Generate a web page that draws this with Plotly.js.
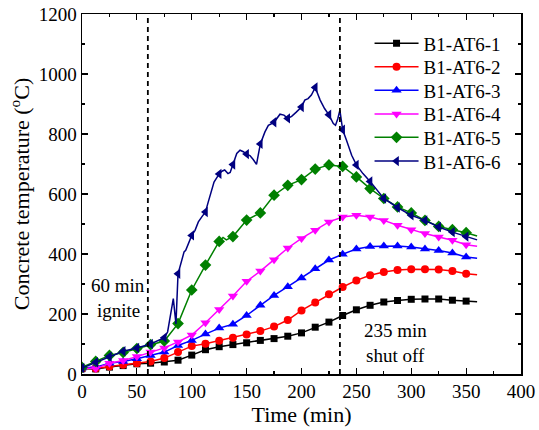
<!DOCTYPE html>
<html>
<head>
<meta charset="utf-8">
<script src="https://cdn.plot.ly/plotly-3.0.1.min.js"></script>
<style>html,body{margin:0;padding:0;background:#fff;}#chart{width:539px;height:430px;}</style>
</head>
<body>
<div id="chart"></div>
<script>
// Marker times (min)
const markTimes = [0,12.5,25,37.5,50,62.5,75,87.5,100,112.5,125,137.5,150,162.5,175,187.5,200,212.5,225,237.5,250,262.5,275,287.5,300,312.5,325,337.5,350];

// Values at marker times (°C)
const s1Mark = [18,17,23,28,34,36,40,46,63,81,91,98,104,112,118,126,137,156,173,195,214,229,240,245,249,250,250,246,243];
const s2Mark = [18,18,25,31,36,42,53,73,93,101,111,121,132,143,158,180,212,238,266,290,312,329,340,347,349,349,348,343,334];
const s3Mark = [20,23,36,42,51,62,73,95,112,133,153,166,195,229,262,291,320,351,380,399,417,425,427,427,423,417,412,403,390];
const s4Mark = [20,18,36,45,58,73,87,107,130,171,215,260,309,343,381,420,452,479,507,523,529,523,512,496,481,468,457,446,431];
const s5Mark = [22,42,62,72,85,98,110,168,280,363,442,458,513,537,596,629,648,683,697,692,657,618,585,557,537,512,492,481,471];
const s6Mark = [20,39,58,76,87,100,121,334,462,540,667,698,733,767,839,852,890,955,864,814,697,642,585,555,529,512,490,473,458];

// Extra line-only points (between markers / line end)
const s1ExtraT = [360];
const s1ExtraV = [241];
const s2ExtraT = [360];
const s2ExtraV = [331];
const s3ExtraT = [360];
const s3ExtraV = [386];
const s4ExtraT = [360];
const s4ExtraV = [426];
const s5ExtraT = [128.5,131.5,360];
const s5ExtraV = [455,447,460];
const s6ExtraT = [78,83.2,85.6,90.8,93,94.5,96.9,103,106,109,115,117.3,120.3,127.5,130,133,135,141,144,147,153,156,159,166.7,169.8,180.4,184,191,195,203,206,209,217,221,229,231,233,235,236.6,241,245.7,256,360];
const s6ExtraV = [140,251,167,379,407,412,434,479,507,523,573,601,640,676,680,668,672,735,746,741,728,715,699,807,829,866,863,859,872,913,918,930,913,885,835,829,850,879,835,779,729,668,447];

const names = ['B1-AT6-1','B1-AT6-2','B1-AT6-3','B1-AT6-4','B1-AT6-5','B1-AT6-6'];
const colors = ['#000000','#ff0000','#0000ff','#ff00ff','#008000','#000080'];
const symbols = ['square','circle','triangle-up','triangle-down','diamond','triangle-left'];
const sizes = [7,8,9,9,9,9];

const marks = [s1Mark,s2Mark,s3Mark,s4Mark,s5Mark,s6Mark];
const extrasT = [s1ExtraT,s2ExtraT,s3ExtraT,s4ExtraT,s5ExtraT,s6ExtraT];
const extrasV = [s1ExtraV,s2ExtraV,s3ExtraV,s4ExtraV,s5ExtraV,s6ExtraV];

const FONT = 'Liberation Serif, Times New Roman, serif';
const legendIds = ['legend','legend2','legend3','legend4','legend5','legend6'];
const legendY = [0.918, 0.853, 0.788, 0.722, 0.657, 0.591];

const traces = [];
for (let i = 0; i < 6; i++) {
  const pts = markTimes.map((t, k) => [t, marks[i][k]]);
  extrasT[i].forEach((t, k) => pts.push([t, extrasV[i][k]]));
  pts.sort((a, b) => a[0] - b[0]);
  traces.push({
    x: pts.map(p => p[0]), y: pts.map(p => p[1]),
    type: 'scatter', mode: 'lines', showlegend: false, hoverinfo: 'skip',
    line: {color: colors[i], width: 1.5}
  });
  traces.push({
    x: markTimes, y: marks[i],
    type: 'scatter', mode: 'markers', showlegend: false,
    marker: {color: colors[i], symbol: symbols[i], size: sizes[i], line: {width: 0}}
  });
}
// legend entries (one legend box per entry, to match row spacing)
for (let i = 0; i < 6; i++) {
  traces.push({
    x: [null], y: [null], name: names[i], legend: legendIds[i],
    type: 'scatter', mode: 'lines+markers',
    line: {color: colors[i], width: 1.5},
    marker: {color: colors[i], symbol: symbols[i], size: sizes[i], line: {width: 0}}
  });
}

const eventTimes = [60, 235];
const shapes = eventTimes.map(t => ({
  type: 'line', xref: 'x', yref: 'y', x0: t, x1: t, y0: 0, y1: 1188,
  line: {color: '#000', width: 1.8, dash: '5px,4px'}
}));

const annotations = [
  {x: 33, y: 295, text: '60 min'},
  {x: 33, y: 212, text: 'ignite'},
  {x: 286, y: 145, text: '235 min'},
  {x: 286, y: 62, text: 'shut off'}
].map(a => Object.assign({xref: 'x', yref: 'y', showarrow: false, font: {family: FONT, size: 19, color: '#000'}}, a));

const axisCommon = {
  showline: true, linecolor: '#000', linewidth: 1.5, mirror: 'ticks',
  ticks: 'inside', ticklen: 6, tickwidth: 1.2, tickcolor: '#000',
  showgrid: false, zeroline: false,
  tickfont: {family: FONT, size: 19, color: '#000'}
};

const layout = {
  width: 539, height: 430,
  margin: {l: 82, r: 18, t: 14, b: 56},
  paper_bgcolor: '#fff', plot_bgcolor: '#fff',
  font: {family: FONT, size: 19, color: '#000'},
  xaxis: Object.assign({}, axisCommon, {
    range: [0, 400], dtick: 50, tick0: 0,
    minor: {dtick: 25, ticks: 'inside', ticklen: 3, tickcolor: '#000', tickwidth: 1.2},
    title: {text: 'Time (min)', font: {family: FONT, size: 22, color: '#000'}, standoff: 2}
  }),
  yaxis: Object.assign({}, axisCommon, {
    range: [0, 1200], dtick: 200, tick0: 0,
    minor: {dtick: 100, ticks: 'inside', ticklen: 3, tickcolor: '#000', tickwidth: 1.2},
    title: {text: 'Concrete temperature (<sup>o</sup>C)', font: {family: FONT, size: 22, color: '#000'}, standoff: 3}
  }),
  shapes: shapes,
  annotations: annotations
};
legendIds.forEach((id, i) => {
  layout[id] = {
    x: 0.655, y: legendY[i], xanchor: 'left', yanchor: 'middle',
    bgcolor: 'rgba(0,0,0,0)', borderwidth: 0,
    font: {family: FONT, size: 19, color: '#000'},
    itemwidth: 44
  };
});

Plotly.newPlot('chart', traces, layout, {staticPlot: true, displayModeBar: false});
</script>
</body>
</html>
